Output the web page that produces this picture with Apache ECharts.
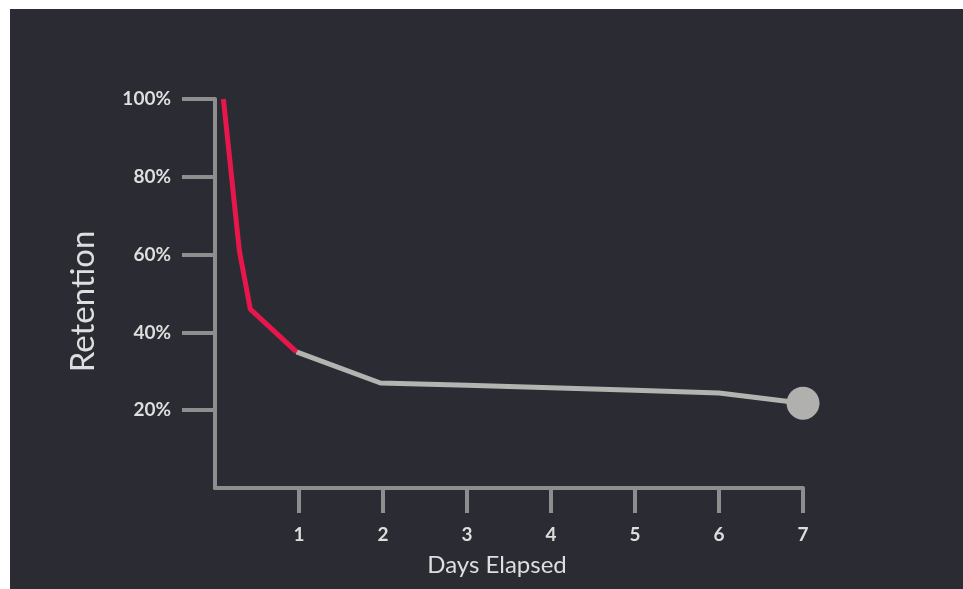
<!DOCTYPE html>
<html>
<head>
<meta charset="utf-8">
<script src="https://cdn.jsdelivr.net/npm/echarts@6/dist/echarts.min.js"></script>
<style>
  html, body { margin: 0; padding: 0; background: #ffffff; }
  #bg { position: absolute; left: 10px; top: 9px; width: 953px; height: 580px; background: #2b2b33; }
  #chart { position: absolute; left: 0; top: 0; width: 963px; height: 589px; }
</style>
</head>
<body>
<div id="bg"></div>
<div id="chart"></div>
<script>
// Data
const dayTicks = [1, 2, 3, 4, 5, 6, 7];
const retentionTicks = [20, 40, 60, 80, 100];
const firstDayDays = [0.1, 0.29, 0.42, 0.97];
const firstDayRetention = [100, 61, 46, 35];
const laterDays = [0.97, 1.97, 3, 4, 5, 6, 7];
const laterRetention = [35, 27, 26.4, 25.8, 25.1, 24.4, 21.8];

const axisColor = '#8e8e8e';
const textColor = '#dedede';
const font = 'Lato';

const redData = firstDayDays.map((d, i) => [d, firstDayRetention[i]]);
const greyData = laterDays.map((d, i) => {
  if (i === laterDays.length - 1) {
    return { value: [d, laterRetention[i]], symbol: 'circle', symbolSize: 33 };
  }
  return [d, laterRetention[i]];
});

const chart = echarts.init(document.getElementById('chart'), null, { renderer: 'canvas' });
chart.setOption({
  backgroundColor: 'transparent',
  animation: false,
  grid: { left: 215, right: 160, top: 99, bottom: 101, containLabel: false },
  xAxis: {
    type: 'value', min: 0, max: 7, interval: 1,
    name: 'Days Elapsed', nameLocation: 'middle', nameGap: 65,
    nameTextStyle: { color: textColor, fontSize: 24, fontFamily: font, padding: [0, 24, 0, 0] },
    axisLine: { show: true, lineStyle: { color: axisColor, width: 4 } },
    axisTick: { show: true, customValues: dayTicks, length: 25, lineStyle: { color: axisColor, width: 4 } },
    axisLabel: { customValues: dayTicks, color: textColor, fontSize: 19, fontWeight: 'bold', fontFamily: font, margin: 37 },
    splitLine: { show: false }
  },
  yAxis: {
    type: 'value', min: 0, max: 100, interval: 20,
    name: 'Retention', nameLocation: 'middle', nameGap: 115,
    nameTextStyle: { color: textColor, fontSize: 33, fontFamily: font, padding: [0, 16, 0, 0] },
    axisLine: { show: true, lineStyle: { color: axisColor, width: 4 } },
    axisTick: { show: true, customValues: retentionTicks, length: 33, lineStyle: { color: axisColor, width: 4 } },
    axisLabel: { customValues: retentionTicks, formatter: '{value}%', color: textColor, fontSize: 19, fontWeight: 'bold', fontFamily: font, margin: 44 },
    splitLine: { show: false }
  },
  series: [
    {
      type: 'line', data: greyData, symbol: 'none', z: 3,
      lineStyle: { color: '#b3b3b1', width: 5 },
      itemStyle: { color: '#b0b0ae' }
    },
    {
      type: 'line', data: redData, symbol: 'none', z: 4,
      lineStyle: { color: '#e8174b', width: 5 }
    }
  ]
});
</script>
</body>
</html>
